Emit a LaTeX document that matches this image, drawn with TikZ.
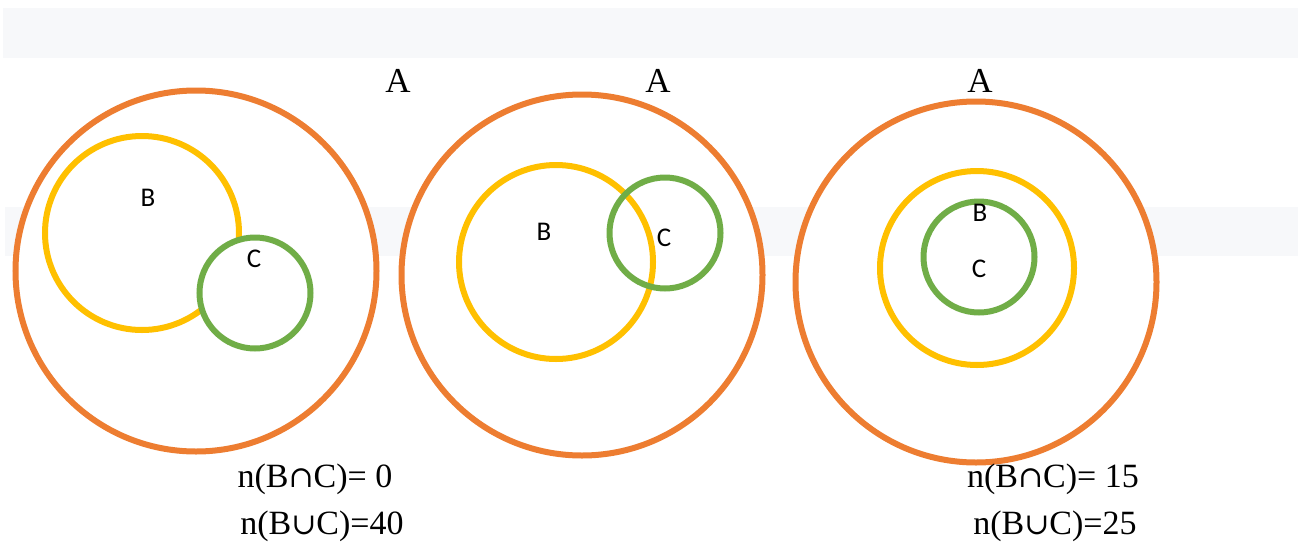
\documentclass[tikz,border=0pt]{standalone}
\usepackage{fontspec}
\setmainfont{Liberation Serif}
\newfontfamily\carlitofont{Carlito}
\newfontfamily\setsymfont{DejaVu Serif}
\newcommand{\capsym}{{\setsymfont\fontsize{30}{32}\selectfont ∩}}
\newcommand{\cupsym}{{\setsymfont\fontsize{30}{32}\selectfont ∪}}
\definecolor{band}{HTML}{F7F8FA}
\definecolor{setA}{HTML}{ED7D31}
\definecolor{setB}{HTML}{FFC000}
\definecolor{setC}{HTML}{70AD47}
\tikzset{
  ring/.style={circle, draw, line width=6pt, inner sep=0pt, minimum size=#1},
  outerset/.style={ring=361pt, draw=setA, fill=white},
  bset/.style={ring=194pt, draw=setB},
  cset/.style={ring=111pt, draw=setC},
  alabel/.style={font=\fontsize{35}{37}\selectfont, inner sep=0pt},
  sublabel/.style={font=\carlitofont\fontsize{27}{29}\selectfont, inner sep=0pt},
  countlabel/.style={font=\fontsize{34}{36}\selectfont, inner sep=0pt, anchor=base},
}
\begin{document}
\begin{tikzpicture}[x=1pt, y=-1pt]
\useasboundingbox (0,0) rectangle (1298,544);
\fill[band] (3,8) rectangle (1298,58);
\fill[band] (5,207) rectangle (1298,256);
% diagram 1
\node[outerset] (A1) at (196,271) {};
\node[bset] (B1) at (142,233) {};
\node[cset, fill=white] (C1) at (255,293) {};
% diagram 2
\node[outerset] (A2) at (582,275) {};
\node[bset] (B2) at (556,262) {};
\node[cset] (C2) at (665,233) {};
% diagram 3
\node[outerset] (A3) at (976,282) {};
\node[bset] (B3) at (977,268) {};
\node[cset] (C3) at (979,257) {};
% labels
\node[alabel] (la1) at (398,81) {A};
\node[alabel] (la2) at (658,81) {A};
\node[alabel] (la3) at (980,81) {A};
\node[sublabel] (lb1) at (148,198) {B};
\node[sublabel] (lc1) at (254,259) {C};
\node[sublabel] (lb2) at (544,232) {B};
\node[sublabel] (lc2) at (664,238) {C};
\node[sublabel] (lb3) at (980,213) {B};
\node[sublabel] (lc3) at (979,269) {C};
\node[countlabel] (n1) at (315,487) {n(B\capsym C)= 0};
\node[countlabel] (n2) at (322,534) {n(B\cupsym C)=40};
\node[countlabel] (n3) at (1053,487) {n(B\capsym C)= 15};
\node[countlabel] (n4) at (1055,534) {n(B\cupsym C)=25};
\end{tikzpicture}
\end{document}
